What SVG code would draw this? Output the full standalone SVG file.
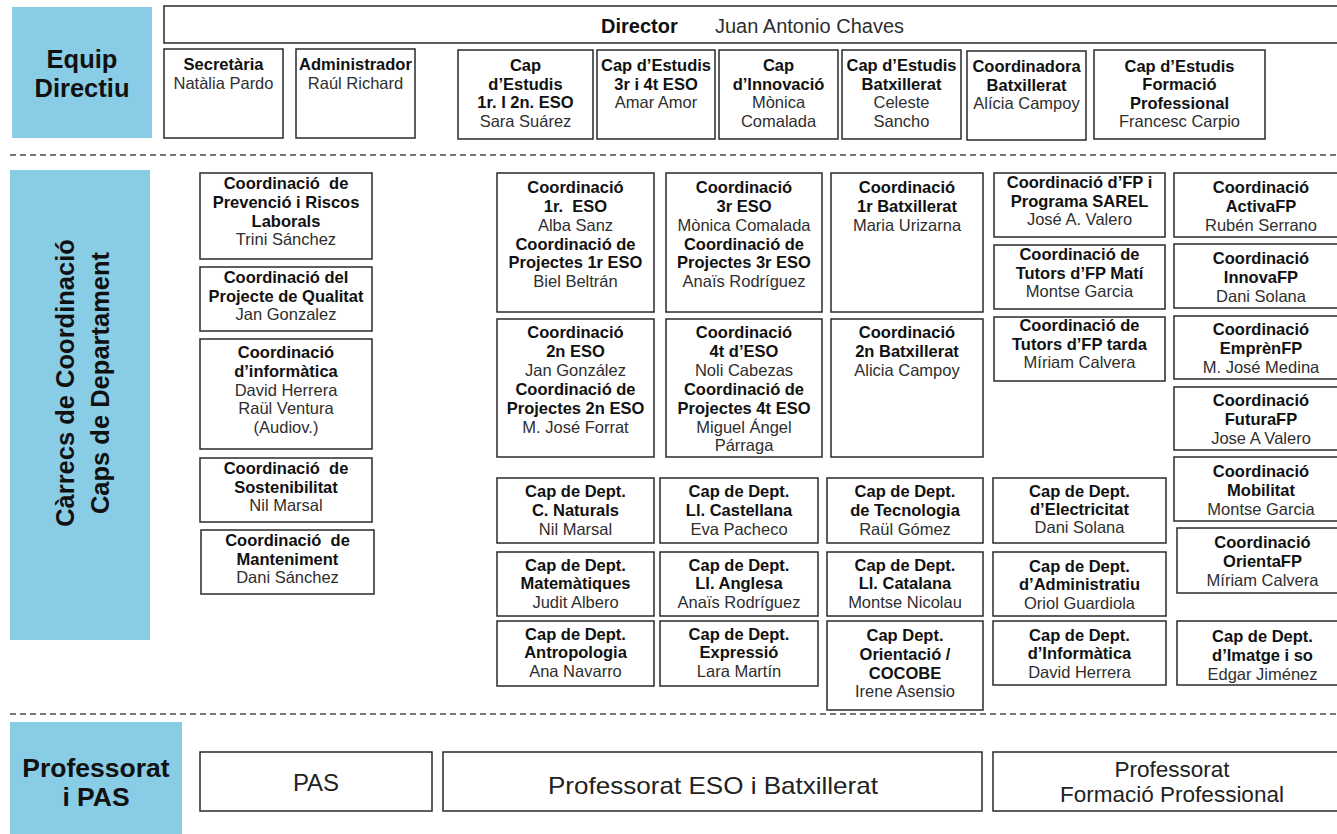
<svg xmlns="http://www.w3.org/2000/svg" width="1337" height="834" viewBox="0 0 1337 834">
<style>
.box{fill:#fff;stroke:#2a2a2a;stroke-width:1.5}
.side{fill:#89CCE6}
text{font-family:"Liberation Sans",Arial,Helvetica,sans-serif;text-anchor:middle}
.n{font-size:16.5px}
.b{font-weight:bold;fill:#111}
.r{fill:#2e2e2e}
.side-t{font-size:25.5px;font-weight:bold;fill:#111}
.sep{stroke:#4a4a4a;stroke-width:1.5;stroke-dasharray:6 4;fill:none}
.big{fill:#222}
</style>
<rect width="1337" height="834" fill="#fff"/>

<g id="separators">
<line class="sep" x1="10" y1="155" x2="1337" y2="155"/>
<line class="sep" x1="10" y1="714" x2="1337" y2="714"/>
</g>

<!-- Section headers -->
<g id="hdr-equip">
<rect class="side" x="12" y="7" width="140" height="131"/>
<text class="side-t" x="82" y="68">Equip</text>
<text class="side-t" x="82" y="97">Directiu</text>
</g>
<g id="hdr-carrecs">
<rect class="side" x="10" y="170" width="140" height="470"/>
<text class="side-t" transform="translate(74,383) rotate(-90)">Càrrecs de Coordinació</text>
<text class="side-t" transform="translate(108.5,383) rotate(-90)">Caps de Departament</text>
</g>
<g id="hdr-professorat">
<rect class="side" x="10" y="722" width="172" height="120"/>
<text class="side-t" x="96" y="777" font-size="26.5px" style="font-size:26.5px">Professorat</text>
<text class="side-t" x="96" y="806" style="font-size:26.5px">i PAS</text>
</g>

<!-- Equip directiu -->
<g id="director">
<rect class="box" x="164" y="6" width="1180" height="37"/>
<text x="601" y="33" style="font-size:20px;text-anchor:start" class="b">Director</text>
<text x="715" y="33" style="font-size:20px;text-anchor:start" class="r">Juan Antonio Chaves</text>
</g>
<g id="secretaria" class="n">
<rect class="box" x="164" y="49" width="119" height="89"/>
<text class="b" x="223.5" y="70">Secretària</text>
<text class="r" x="223.5" y="88.5">Natàlia Pardo</text>
</g>
<g id="administrador" class="n">
<rect class="box" x="296" y="49" width="119" height="89"/>
<text class="b" x="355.5" y="70">Administrador</text>
<text class="r" x="355.5" y="88.5">Raúl Richard</text>
</g>
<g id="cap-estudis-1-2" class="n">
<rect class="box" x="458" y="50" width="135" height="89"/>
<text class="b" x="525.5" y="71">Cap</text>
<text class="b" x="525.5" y="89.5">d’Estudis</text>
<text class="b" x="525.5" y="108">1r. I 2n. ESO</text>
<text class="r" x="525.5" y="127">Sara Suárez</text>
</g>
<g id="cap-estudis-3-4" class="n">
<rect class="box" x="597" y="50" width="118" height="89"/>
<text class="b" x="656" y="71">Cap d’Estudis</text>
<text class="b" x="656" y="89.5">3r i 4t ESO</text>
<text class="r" x="656" y="108">Amar Amor</text>
</g>
<g id="cap-innovacio" class="n">
<rect class="box" x="719" y="50" width="119" height="89"/>
<text class="b" x="778.5" y="71">Cap</text>
<text class="b" x="778.5" y="89.5">d’Innovació</text>
<text class="r" x="778.5" y="108">Mònica</text>
<text class="r" x="778.5" y="127">Comalada</text>
</g>
<g id="cap-estudis-batx" class="n">
<rect class="box" x="842" y="50" width="119" height="89"/>
<text class="b" x="901.5" y="71">Cap d’Estudis</text>
<text class="b" x="901.5" y="89.5">Batxillerat</text>
<text class="r" x="901.5" y="108">Celeste</text>
<text class="r" x="901.5" y="127">Sancho</text>
</g>
<g id="coordinadora-batx" class="n">
<rect class="box" x="967" y="51" width="119" height="89"/>
<text class="b" x="1026.5" y="72">Coordinadora</text>
<text class="b" x="1026.5" y="90.5">Batxillerat</text>
<text class="r" x="1026.5" y="109">Alícia Campoy</text>
</g>
<g id="cap-estudis-fp" class="n">
<rect class="box" x="1094" y="50" width="171" height="89"/>
<text class="b" x="1179.5" y="71.5">Cap d’Estudis</text>
<text class="b" x="1179.5" y="90">Formació</text>
<text class="b" x="1179.5" y="108.5">Professional</text>
<text class="r" x="1179.5" y="127">Francesc Carpio</text>
</g>

<!-- Left coordination column -->
<g id="coord-prevencio" class="n">
<rect class="box" x="200" y="173" width="172" height="86"/>
<text class="b" x="286" y="189">Coordinació&#160; de</text>
<text class="b" x="286" y="208">Prevenció i Riscos</text>
<text class="b" x="286" y="227">Laborals</text>
<text class="r" x="286" y="245">Trini Sánchez</text>
</g>
<g id="coord-qualitat" class="n">
<rect class="box" x="200" y="267" width="172" height="64"/>
<text class="b" x="286" y="283">Coordinació del</text>
<text class="b" x="286" y="302">Projecte de Qualitat</text>
<text class="r" x="286" y="320">Jan Gonzalez</text>
</g>
<g id="coord-informatica" class="n">
<rect class="box" x="200" y="339" width="172" height="110"/>
<text class="b" x="286" y="358">Coordinació</text>
<text class="b" x="286" y="377">d’informàtica</text>
<text class="r" x="286" y="395.5">David Herrera</text>
<text class="r" x="286" y="414">Raül Ventura</text>
<text class="r" x="286" y="433">(Audiov.)</text>
</g>
<g id="coord-sostenibilitat" class="n">
<rect class="box" x="200" y="458" width="172" height="64"/>
<text class="b" x="286" y="474">Coordinació&#160; de</text>
<text class="b" x="286" y="493">Sostenibilitat</text>
<text class="r" x="286" y="511">Nil Marsal</text>
</g>
<g id="coord-manteniment" class="n">
<rect class="box" x="201" y="530" width="173" height="64"/>
<text class="b" x="287.5" y="546">Coordinació&#160; de</text>
<text class="b" x="287.5" y="565">Manteniment</text>
<text class="r" x="287.5" y="583">Dani Sánchez</text>
</g>

<!-- ESO / Batx coordination grid -->
<g id="coord-1eso" class="n">
<rect class="box" x="497" y="173" width="157" height="139"/>
<text class="b" x="575.5" y="193">Coordinació</text>
<text class="b" x="575.5" y="212">1r.&#160; ESO</text>
<text class="r" x="575.5" y="231">Alba Sanz</text>
<text class="b" x="575.5" y="249.5">Coordinació de</text>
<text class="b" x="575.5" y="268">Projectes 1r ESO</text>
<text class="r" x="575.5" y="287">Biel Beltrán</text>
</g>
<g id="coord-3eso" class="n">
<rect class="box" x="666" y="173" width="156" height="139"/>
<text class="b" x="744" y="193">Coordinació</text>
<text class="b" x="744" y="212">3r ESO</text>
<text class="r" x="744" y="231">Mònica Comalada</text>
<text class="b" x="744" y="249.5">Coordinació de</text>
<text class="b" x="744" y="268">Projectes 3r ESO</text>
<text class="r" x="744" y="287">Anaïs Rodríguez</text>
</g>
<g id="coord-1batx" class="n">
<rect class="box" x="831" y="173" width="152" height="139"/>
<text class="b" x="907" y="193">Coordinació</text>
<text class="b" x="907" y="212">1r Batxillerat</text>
<text class="r" x="907" y="231">Maria Urizarna</text>
</g>
<g id="coord-2eso" class="n">
<rect class="box" x="497" y="319" width="157" height="138"/>
<text class="b" x="575.5" y="338">Coordinació</text>
<text class="b" x="575.5" y="357">2n ESO</text>
<text class="r" x="575.5" y="376">Jan González</text>
<text class="b" x="575.5" y="395">Coordinació de</text>
<text class="b" x="575.5" y="414">Projectes 2n ESO</text>
<text class="r" x="575.5" y="432.5">M. José Forrat</text>
</g>
<g id="coord-4eso" class="n">
<rect class="box" x="666" y="319" width="156" height="138"/>
<text class="b" x="744" y="338">Coordinació</text>
<text class="b" x="744" y="357">4t d’ESO</text>
<text class="r" x="744" y="376">Noli Cabezas</text>
<text class="b" x="744" y="395">Coordinació de</text>
<text class="b" x="744" y="414">Projectes 4t ESO</text>
<text class="r" x="744" y="432.5">Miguel Ángel</text>
<text class="r" x="744" y="451">Párraga</text>
</g>
<g id="coord-2batx" class="n">
<rect class="box" x="831" y="319" width="152" height="138"/>
<text class="b" x="907" y="338">Coordinació</text>
<text class="b" x="907" y="357">2n Batxillerat</text>
<text class="r" x="907" y="376">Alicia Campoy</text>
</g>

<!-- FP coordination column -->
<g id="coord-fp-sarel" class="n">
<rect class="box" x="994" y="173" width="171" height="64"/>
<text class="b" x="1079.5" y="188">Coordinació d’FP i</text>
<text class="b" x="1079.5" y="206.5">Programa SAREL</text>
<text class="r" x="1079.5" y="225">José A. Valero</text>
</g>
<g id="coord-tutors-mati" class="n">
<rect class="box" x="994" y="245" width="171" height="64"/>
<text class="b" x="1079.5" y="260">Coordinació de</text>
<text class="b" x="1079.5" y="278.5">Tutors d’FP Matí</text>
<text class="r" x="1079.5" y="297">Montse Garcia</text>
</g>
<g id="coord-tutors-tarda" class="n">
<rect class="box" x="994" y="317" width="171" height="64"/>
<text class="b" x="1079.5" y="331">Coordinació de</text>
<text class="b" x="1079.5" y="349.5">Tutors d’FP tarda</text>
<text class="r" x="1079.5" y="368">Míriam Calvera</text>
</g>

<!-- Right FP programmes column -->
<g id="coord-activafp" class="n">
<rect class="box" x="1174" y="173" width="174" height="64"/>
<text class="b" x="1261" y="193">Coordinació</text>
<text class="b" x="1261" y="212">ActivaFP</text>
<text class="r" x="1261" y="231">Rubén Serrano</text>
</g>
<g id="coord-innovafp" class="n">
<rect class="box" x="1174" y="244" width="174" height="64"/>
<text class="b" x="1261" y="264">Coordinació</text>
<text class="b" x="1261" y="283">InnovaFP</text>
<text class="r" x="1261" y="302">Dani Solana</text>
</g>
<g id="coord-emprenfp" class="n">
<rect class="box" x="1174" y="316" width="174" height="63"/>
<text class="b" x="1261" y="335">Coordinació</text>
<text class="b" x="1261" y="354">EmprènFP</text>
<text class="r" x="1261" y="372.5">M. José Medina</text>
</g>
<g id="coord-futurafp" class="n">
<rect class="box" x="1174" y="387" width="174" height="63"/>
<text class="b" x="1261" y="406">Coordinació</text>
<text class="b" x="1261" y="425">FuturaFP</text>
<text class="r" x="1261" y="443.5">Jose A Valero</text>
</g>
<g id="coord-mobilitat" class="n">
<rect class="box" x="1174" y="457" width="174" height="64"/>
<text class="b" x="1261" y="477">Coordinació</text>
<text class="b" x="1261" y="496">Mobilitat</text>
<text class="r" x="1261" y="514.5">Montse Garcia</text>
</g>
<g id="coord-orientafp" class="n">
<rect class="box" x="1177" y="528" width="171" height="65"/>
<text class="b" x="1262.5" y="548">Coordinació</text>
<text class="b" x="1262.5" y="567">OrientaFP</text>
<text class="r" x="1262.5" y="585.5">Míriam Calvera</text>
</g>
<g id="dept-imatge" class="n">
<rect class="box" x="1177" y="621" width="171" height="64"/>
<text class="b" x="1262.5" y="642">Cap de Dept.</text>
<text class="b" x="1262.5" y="661">d’Imatge i so</text>
<text class="r" x="1262.5" y="679.5">Edgar Jiménez</text>
</g>

<!-- Departments grid -->
<g id="dept-naturals" class="n">
<rect class="box" x="497" y="478" width="157" height="65"/>
<text class="b" x="575.5" y="497">Cap de Dept.</text>
<text class="b" x="575.5" y="516">C. Naturals</text>
<text class="r" x="575.5" y="534.5">Nil Marsal</text>
</g>
<g id="dept-castellana" class="n">
<rect class="box" x="660" y="478" width="158" height="65"/>
<text class="b" x="739" y="497">Cap de Dept.</text>
<text class="b" x="739" y="516">Ll. Castellana</text>
<text class="r" x="739" y="534.5">Eva Pacheco</text>
</g>
<g id="dept-tecnologia" class="n">
<rect class="box" x="827" y="478" width="156" height="65"/>
<text class="b" x="905" y="497">Cap de Dept.</text>
<text class="b" x="905" y="516">de Tecnologia</text>
<text class="r" x="905" y="534.5">Raül Gómez</text>
</g>
<g id="dept-matematiques" class="n">
<rect class="box" x="497" y="552" width="157" height="64"/>
<text class="b" x="575.5" y="570.5">Cap de Dept.</text>
<text class="b" x="575.5" y="589">Matemàtiques</text>
<text class="r" x="575.5" y="607.5">Judit Albero</text>
</g>
<g id="dept-anglesa" class="n">
<rect class="box" x="660" y="552" width="158" height="64"/>
<text class="b" x="739" y="570.5">Cap de Dept.</text>
<text class="b" x="739" y="589">Ll. Anglesa</text>
<text class="r" x="739" y="607.5">Anaïs Rodríguez</text>
</g>
<g id="dept-catalana" class="n">
<rect class="box" x="827" y="552" width="156" height="64"/>
<text class="b" x="905" y="570.5">Cap de Dept.</text>
<text class="b" x="905" y="589">Ll. Catalana</text>
<text class="r" x="905" y="607.5">Montse Nicolau</text>
</g>
<g id="dept-antropologia" class="n">
<rect class="box" x="497" y="621" width="157" height="65"/>
<text class="b" x="575.5" y="639.5">Cap de Dept.</text>
<text class="b" x="575.5" y="658">Antropologia</text>
<text class="r" x="575.5" y="676.5">Ana Navarro</text>
</g>
<g id="dept-expressio" class="n">
<rect class="box" x="660" y="621" width="158" height="65"/>
<text class="b" x="739" y="639.5">Cap de Dept.</text>
<text class="b" x="739" y="658">Expressió</text>
<text class="r" x="739" y="676.5">Lara Martín</text>
</g>
<g id="dept-orientacio" class="n">
<rect class="box" x="827" y="621" width="156" height="89"/>
<text class="b" x="905" y="641">Cap Dept.</text>
<text class="b" x="905" y="660">Orientació /</text>
<text class="b" x="905" y="678.5">COCOBE</text>
<text class="r" x="905" y="697">Irene Asensio</text>
</g>
<g id="dept-electricitat" class="n">
<rect class="box" x="993" y="478" width="173" height="65"/>
<text class="b" x="1079.5" y="497">Cap de Dept.</text>
<text class="b" x="1079.5" y="515">d’Electricitat</text>
<text class="r" x="1079.5" y="533">Dani Solana</text>
</g>
<g id="dept-administratiu" class="n">
<rect class="box" x="993" y="552" width="173" height="64"/>
<text class="b" x="1079.5" y="572">Cap de Dept.</text>
<text class="b" x="1079.5" y="590">d’Administratiu</text>
<text class="r" x="1079.5" y="608.5">Oriol Guardiola</text>
</g>
<g id="dept-informatica" class="n">
<rect class="box" x="993" y="621" width="173" height="64"/>
<text class="b" x="1079.5" y="640.5">Cap de Dept.</text>
<text class="b" x="1079.5" y="659">d’Informàtica</text>
<text class="r" x="1079.5" y="678">David Herrera</text>
</g>

<!-- Professorat -->
<g id="pas">
<rect class="box" x="200" y="752" width="232" height="59"/>
<text class="big" x="316" y="791" style="font-size:24px">PAS</text>
</g>
<g id="prof-eso-batx">
<rect class="box" x="443" y="752" width="539" height="59"/>
<text class="big" x="713" y="794" style="font-size:24px" textLength="330" lengthAdjust="spacingAndGlyphs">Professorat ESO i Batxillerat</text>
</g>
<g id="prof-fp">
<rect class="box" x="993" y="752" width="352" height="59"/>
<text class="big" x="1172" y="777" style="font-size:22.5px">Professorat</text>
<text class="big" x="1172" y="802" style="font-size:22.5px">Formació Professional</text>
</g>
</svg>
